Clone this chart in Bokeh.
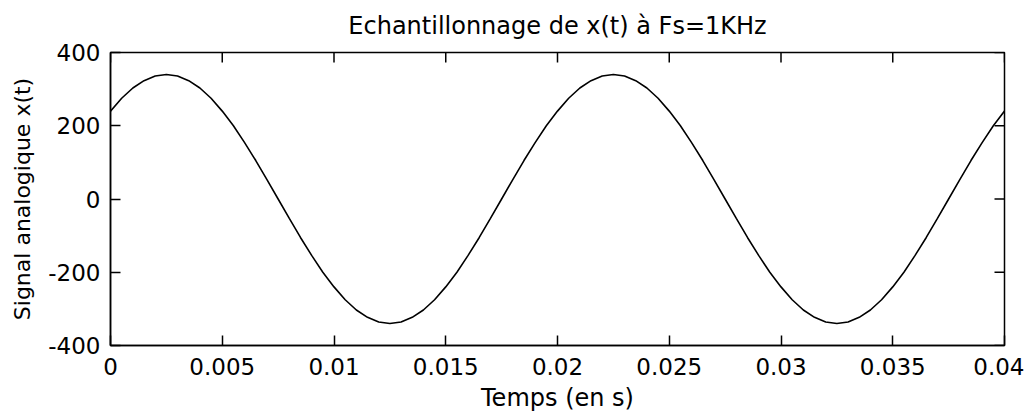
import math
from bokeh.plotting import figure
from bokeh.models import LinearAxis, FixedTicker, Range1d
from bokeh.embed import file_html
from bokeh.resources import INLINE

title_text = "Echantillonnage de x(t) à Fs=1KHz"
x_label = "Temps (en s)"
y_label = "Signal analogique x(t)"

x_ticks = [0, 0.005, 0.01, 0.015, 0.02, 0.025, 0.03, 0.035, 0.04]
x_tick_labels = ["0", "0.005", "0.01", "0.015", "0.02", "0.025", "0.03", "0.035", "0.04"]
y_ticks = [-400, -200, 0, 200, 400]
y_tick_labels = ["-400", "-200", "0", "200", "400"]

t = [0.0, 0.0005, 0.001, 0.0015, 0.002, 0.0025, 0.003, 0.0035, 0.004, 0.0045,
     0.005, 0.0055, 0.006, 0.0065, 0.007, 0.0075, 0.008, 0.0085, 0.009, 0.0095,
     0.01, 0.0105, 0.011, 0.0115, 0.012, 0.0125, 0.013, 0.0135, 0.014, 0.0145,
     0.015, 0.0155, 0.016, 0.0165, 0.017, 0.0175, 0.018, 0.0185, 0.019, 0.0195,
     0.02, 0.0205, 0.021, 0.0215, 0.022, 0.0225, 0.023, 0.0235, 0.024, 0.0245,
     0.025, 0.0255, 0.026, 0.0265, 0.027, 0.0275, 0.028, 0.0285, 0.029, 0.0295,
     0.03, 0.0305, 0.031, 0.0315, 0.032, 0.0325, 0.033, 0.0335, 0.034, 0.0345,
     0.035, 0.0355, 0.036, 0.0365, 0.037, 0.0375, 0.038, 0.0385, 0.039, 0.0395,
     0.04]
x_signal = [240, 275, 303, 323, 336, 340, 336, 323, 303, 275,
            240, 200, 154, 105, 53, 0, -53, -105, -154, -200,
            -240, -275, -303, -323, -336, -340, -336, -323, -303, -275,
            -240, -200, -154, -105, -53, 0, 53, 105, 154, 200,
            240, 275, 303, 323, 336, 340, 336, 323, 303, 275,
            240, 200, 154, 105, 53, 0, -53, -105, -154, -200,
            -240, -275, -303, -323, -336, -340, -336, -323, -303, -275,
            -240, -200, -154, -105, -53, 0, 53, 105, 154, 200,
            240]

FONT = "DejaVu Sans"

p = figure(width=1024, height=419, output_backend="svg", toolbar_location=None,
           x_range=Range1d(0, 0.04), y_range=Range1d(-400, 400),
           min_border_left=110, min_border_right=20, min_border_top=52,
           min_border_bottom=74, x_axis_location=None, y_axis_location=None)

p.title.text = title_text
p.title.align = "center"
p.title.vertical_align = "top"
p.title.text_font = FONT
p.title.text_font_size = "24px"
p.title.text_font_style = "normal"
p.title.text_color = "black"
p.title.standoff = 22

p.grid.visible = False
p.outline_line_color = "black"
p.outline_line_width = 1.5
p.background_fill_color = "white"
p.border_fill_color = "white"

p.line(t, x_signal, line_color="black", line_width=1.6)

# tick marks on the top and right edges of the box
p.ray(x=x_ticks, y=[y_ticks[-1]] * len(x_ticks), length=10, length_units="screen",
      angle=-math.pi / 2, line_color="black", line_width=1.5)
p.ray(x=[x_ticks[-1]] * len(y_ticks), y=y_ticks, length=10, length_units="screen",
      angle=math.pi, line_color="black", line_width=1.5)

def style_axis(ax, ticks, labels):
    ax.ticker = FixedTicker(ticks=ticks)
    ax.major_label_overrides = {tk: lb for tk, lb in zip(ticks, labels)}
    ax.major_tick_in = 10
    ax.major_tick_out = 0
    ax.minor_tick_in = 0
    ax.minor_tick_out = 0
    ax.axis_line_color = "black"
    ax.axis_line_width = 1.5
    ax.major_tick_line_color = "black"
    ax.major_tick_line_width = 1.5
    ax.major_label_text_font = FONT
    ax.major_label_text_font_size = "23px"
    ax.major_label_text_color = "black"
    ax.axis_label_text_font = FONT
    ax.axis_label_text_font_style = "normal"
    ax.axis_label_text_color = "black"

xb = LinearAxis(axis_label=x_label)
style_axis(xb, x_ticks, x_tick_labels)
xb.axis_label_text_font_size = "24px"
xb.major_label_standoff = 12
xb.axis_label_standoff = 6
p.add_layout(xb, "below")

yl = LinearAxis(axis_label=y_label)
style_axis(yl, y_ticks, y_tick_labels)
yl.axis_label_text_font_size = "22px"
yl.major_label_standoff = 10
yl.axis_label_standoff = 10
p.add_layout(yl, "left")

open("out.html", "w").write(file_html(p, INLINE))
